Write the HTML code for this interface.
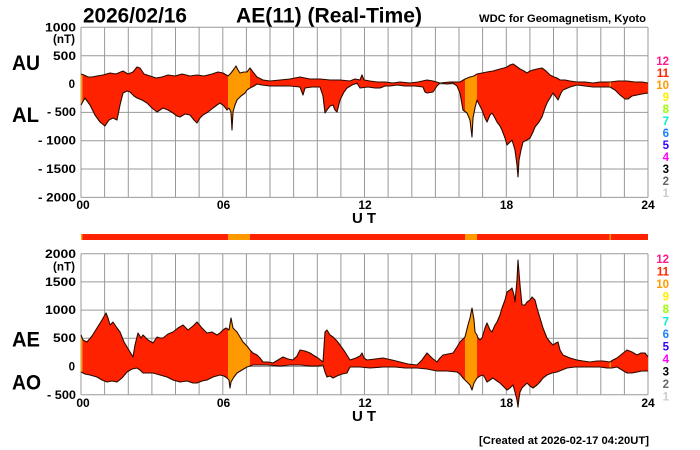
<!DOCTYPE html>
<html><head><meta charset="utf-8"><style>
html,body{margin:0;padding:0;background:#fff;}
svg{display:block;}
text{font-family:"Liberation Sans",Arial,sans-serif;font-weight:bold;}
.tk{font-size:11.5px;}
.lg{font-size:11.5px;}
</style></head><body>
<svg width="700" height="450" viewBox="0 0 700 450" xmlns="http://www.w3.org/2000/svg">
<defs>
<mask id="m1" maskUnits="userSpaceOnUse" x="0" y="0" width="700" height="450">
<polygon fill="#fff" points="81,74 84,75 88,77 92,77 97,76 103,75 110,73 116,74 123,71 128,74 133,72 137,67 140,68 144,74 150,76 156,78 162,77 168,75 175,76 182,74 190,76 197,75 204,76 212,74 218,72 223,73 228,76 231,73 234,69 236,66 238,70 240,73 244,72 247,72 250,68 253,72 257,77 263,80 270,81 280,80 290,79 300,77 310,79 320,79 330,80 340,80 350,81 355,79 360,80 362,75 364,80 370,81 377,82 385,82 393,83 400,82 410,83 418,82 427,80 433,81 440,83 450,82 460,82 465,79 470,77 474,76 477,74 482,73 487,72 493,71 500,69 504,68 507,67 510,65 513,64 516,66 520,69 524,71 527,73 530,71 533,70 537,69 542,68 546,71 550,75 554,77 557,78 560,80 565,80 570,81 577,82 585,82 593,83 600,82 610,82 618,81 627,81 635,82 642,82 648,83 648,200 81,200"/>
<polygon fill="#000" points="81,105 85,98 90,105 95,115 100,122 105,126 109,120 113,118 117,120 120,105 123,93 127,91 130,92 134,96 137,98 142,100 147,103 152,108 157,112 163,108 168,110 173,113 177,116 180,117 185,114 190,115 194,120 197,123 200,118 203,115 208,112 213,108 217,105 220,103 224,106 227,110 229,108 231,112 232,130 233,112 235,105 237,100 241,96 245,93 247,90 250,88 254,86 257,84 262,85 270,86 280,86 290,86 300,87 303,95 305,88 312,87 320,87 323,96 325,113 327,110 330,106 333,105 335,110 337,112 340,100 344,92 347,88 352,85 357,83 360,88 368,87 375,88 380,88 385,86 390,86 397,85 405,86 415,86 423,87 425,92 427,93 433,92 437,86 440,83 447,84 453,83 457,86 460,93 463,110 467,113 470,120 472,137 473,118 475,108 477,100 480,106 482,110 485,118 487,122 490,115 492,113 495,118 497,122 500,126 502,130 505,138 507,145 510,142 512,140 515,150 517,165 518,177 519,160 521,150 523,142 527,140 530,138 533,132 535,127 539,122 542,117 545,108 547,103 550,98 553,93 556,97 558,100 561,93 563,90 570,87 577,85 585,86 593,87 600,87 605,87 610,87 615,90 620,95 625,99 628,99 632,96 637,95 642,94 648,93 648,200 81,200"/>
</mask>
<mask id="m2" maskUnits="userSpaceOnUse" x="0" y="0" width="700" height="450">
<polygon fill="#fff" points="81,335 83,340 87,342 92,336 97,328 102,320 106,313 108,318 110,325 113,322 117,328 120,332 124,342 127,347 130,352 133,357 135,345 138,333 141,338 143,335 148,340 153,343 157,337 160,338 163,338 168,334 173,332 178,328 183,325 188,330 193,326 197,322 202,328 207,333 212,332 217,335 220,333 223,330 226,328 229,330 231,318 233,328 237,332 240,337 243,342 247,346 250,350 253,353 257,355 260,358 263,362 268,362 273,363 278,360 283,357 288,359 293,360 297,356 300,350 305,351 310,353 313,355 318,358 323,362 325,332 327,330 330,335 333,337 337,341 340,345 345,352 350,360 356,358 360,356 362,353 364,358 367,360 375,359 383,358 392,360 400,362 408,364 417,365 422,360 427,353 432,358 437,362 440,358 443,355 448,354 453,353 457,347 460,342 463,339 465,337 468,325 470,318 472,308 474,320 475,332 477,335 478,338 480,340 482,338 485,328 487,323 490,330 492,332 495,325 497,322 500,315 502,308 505,300 507,292 510,290 512,288 514,295 515,302 517,280 518,260 520,285 522,305 525,305 527,302 530,300 532,297 535,300 537,308 540,318 543,328 547,338 550,342 553,345 556,343 558,342 560,350 563,355 570,358 577,360 583,361 590,362 597,361 603,361 610,362 613,360 617,358 622,354 627,350 632,352 637,355 641,353 645,353 648,357 648,420 81,420"/>
<polygon fill="#000" points="81,372 85,374 90,375 97,377 102,380 107,382 112,381 117,382 122,378 127,372 132,369 137,368 140,370 143,373 148,373 153,373 160,375 167,377 173,380 180,382 187,381 193,383 197,383 202,381 207,380 213,377 220,375 224,376 227,378 229,380 230,388 231,382 234,377 237,373 242,370 247,367 250,366 253,365 260,365 267,365 280,366 290,365 300,365 310,366 318,366 323,365 325,372 327,377 330,376 333,378 337,376 342,374 347,373 350,367 360,367 370,368 383,367 395,367 405,368 417,368 427,369 437,371 447,371 457,372 460,374 463,378 467,382 470,385 472,390 474,383 477,378 480,376 483,375 485,378 487,382 490,380 493,378 497,381 500,383 503,386 507,390 510,388 513,385 515,392 517,400 518,407 519,398 520,392 522,388 525,385 527,383 530,386 533,388 537,385 540,382 543,378 547,375 552,373 557,372 562,370 567,368 575,367 583,367 593,367 600,367 607,368 612,368 617,367 622,370 627,373 632,373 637,372 642,371 648,371 648,420 81,420"/>
</mask>
</defs>

<!-- Titles -->
<text x="83" y="22.5" font-size="21" textLength="104" lengthAdjust="spacingAndGlyphs">2026/02/16</text>
<text x="236" y="22.5" font-size="21" textLength="186" lengthAdjust="spacingAndGlyphs">AE(11) (Real-Time)</text>
<text x="479" y="22" font-size="11.2" textLength="167" lengthAdjust="spacingAndGlyphs">WDC for Geomagnetism, Kyoto</text>

<!-- Top grid -->
<g stroke="#999" stroke-width="1" fill="none">
<path d="M81,27.3V197.4M104.6,27.3V197.4M128.3,27.3V197.4M151.9,27.3V197.4M175.5,27.3V197.4M199.1,27.3V197.4M222.8,27.3V197.4M246.4,27.3V197.4M270,27.3V197.4M293.6,27.3V197.4M317.3,27.3V197.4M340.9,27.3V197.4M364.5,27.3V197.4M388.1,27.3V197.4M411.8,27.3V197.4M435.4,27.3V197.4M459,27.3V197.4M482.6,27.3V197.4M506.3,27.3V197.4M529.9,27.3V197.4M553.5,27.3V197.4M577.1,27.3V197.4M600.8,27.3V197.4M624.4,27.3V197.4M648,27.3V197.4"/>
<path d="M81,27.3H648M81,55.7H648M81,84H648M81,112.4H648M81,140.7H648M81,169H648M81,197.4H648"/>
</g>
<!-- Top data -->
<g mask="url(#m1)">
<rect x="81" y="20" width="567" height="180" fill="#ff2200"/>
<rect x="81" y="20" width="1.5" height="180" fill="#ff9900"/>
<rect x="228" y="20" width="22" height="180" fill="#ff9900"/>
<rect x="465" y="20" width="12" height="180" fill="#ff9900"/>
<rect x="609.5" y="20" width="1.5" height="180" fill="#ff9900"/>
</g>
<g fill="none" stroke="#2a0a00" stroke-width="1.1" stroke-linejoin="round">
<polyline points="81,74 84,75 88,77 92,77 97,76 103,75 110,73 116,74 123,71 128,74 133,72 137,67 140,68 144,74 150,76 156,78 162,77 168,75 175,76 182,74 190,76 197,75 204,76 212,74 218,72 223,73 228,76 231,73 234,69 236,66 238,70 240,73 244,72 247,72 250,68 253,72 257,77 263,80 270,81 280,80 290,79 300,77 310,79 320,79 330,80 340,80 350,81 355,79 360,80 362,75 364,80 370,81 377,82 385,82 393,83 400,82 410,83 418,82 427,80 433,81 440,83 450,82 460,82 465,79 470,77 474,76 477,74 482,73 487,72 493,71 500,69 504,68 507,67 510,65 513,64 516,66 520,69 524,71 527,73 530,71 533,70 537,69 542,68 546,71 550,75 554,77 557,78 560,80 565,80 570,81 577,82 585,82 593,83 600,82 610,82 618,81 627,81 635,82 642,82 648,83"/>
<polyline points="81,105 85,98 90,105 95,115 100,122 105,126 109,120 113,118 117,120 120,105 123,93 127,91 130,92 134,96 137,98 142,100 147,103 152,108 157,112 163,108 168,110 173,113 177,116 180,117 185,114 190,115 194,120 197,123 200,118 203,115 208,112 213,108 217,105 220,103 224,106 227,110 229,108 231,112 232,130 233,112 235,105 237,100 241,96 245,93 247,90 250,88 254,86 257,84 262,85 270,86 280,86 290,86 300,87 303,95 305,88 312,87 320,87 323,96 325,113 327,110 330,106 333,105 335,110 337,112 340,100 344,92 347,88 352,85 357,83 360,88 368,87 375,88 380,88 385,86 390,86 397,85 405,86 415,86 423,87 425,92 427,93 433,92 437,86 440,83 447,84 453,83 457,86 460,93 463,110 467,113 470,120 472,137 473,118 475,108 477,100 480,106 482,110 485,118 487,122 490,115 492,113 495,118 497,122 500,126 502,130 505,138 507,145 510,142 512,140 515,150 517,165 518,177 519,160 521,150 523,142 527,140 530,138 533,132 535,127 539,122 542,117 545,108 547,103 550,98 553,93 556,97 558,100 561,93 563,90 570,87 577,85 585,86 593,87 600,87 605,87 610,87 615,90 620,95 625,99 628,99 632,96 637,95 642,94 648,93"/>
</g>

<!-- Top labels -->
<text x="12" y="70" font-size="21" textLength="28" lengthAdjust="spacingAndGlyphs">AU</text>
<text x="12" y="122" font-size="21" textLength="27" lengthAdjust="spacingAndGlyphs">AL</text>
<g class="tk" text-anchor="end">
<text x="76" y="31.5" textLength="31" lengthAdjust="spacingAndGlyphs">1000</text>
<text x="75" y="43" textLength="22" lengthAdjust="spacingAndGlyphs">(nT)</text>
<text x="76" y="60" textLength="23" lengthAdjust="spacingAndGlyphs">500</text>
<text x="75" y="88">0</text>
<text x="76" y="116" textLength="29" lengthAdjust="spacingAndGlyphs">- 500</text>
<text x="76" y="144.5" textLength="38" lengthAdjust="spacingAndGlyphs">- 1000</text>
<text x="76" y="173" textLength="38" lengthAdjust="spacingAndGlyphs">- 1500</text>
<text x="76" y="201.5" textLength="38" lengthAdjust="spacingAndGlyphs">- 2000</text>
</g>
<g font-size="12" text-anchor="middle">
<text x="83" y="209">00</text>
<text x="223.5" y="209">06</text>
<text x="365" y="209">12</text>
<text x="506.5" y="209">18</text>
<text x="648" y="209">24</text>
</g>
<text x="352" y="223" font-size="15" textLength="24" lengthAdjust="spacing">U T</text>

<!-- Top legend -->
<g class="lg" text-anchor="end">
<text x="669" y="65" style="fill:#ff1a8c">12</text>
<text x="669" y="77" style="fill:#ff2200">11</text>
<text x="669" y="89" style="fill:#ff9900">10</text>
<text x="669" y="101" style="fill:#ffee00">9</text>
<text x="669" y="113" style="fill:#99ff00">8</text>
<text x="669" y="125" style="fill:#00eecc">7</text>
<text x="669" y="137" style="fill:#1a80ff">6</text>
<text x="669" y="149" style="fill:#3300ff">5</text>
<text x="669" y="161" style="fill:#ff00ff">4</text>
<text x="669" y="173" style="fill:#000">3</text>
<text x="669" y="185" style="fill:#666">2</text>
<text x="669" y="197" style="fill:#ccc">1</text>
</g>

<!-- Color bar -->
<rect x="81" y="234" width="567" height="6" fill="#ff2200"/>
<rect x="81" y="234" width="1.5" height="6" fill="#ff9900"/>
<rect x="228" y="234" width="22" height="6" fill="#ff9900"/>
<rect x="465" y="234" width="12" height="6" fill="#ff9900"/>
<rect x="609.5" y="234" width="1.5" height="6" fill="#ff9900"/>

<!-- Bottom grid -->
<g stroke="#999" stroke-width="1" fill="none">
<path d="M81,253.7V394.7M104.6,253.7V394.7M128.3,253.7V394.7M151.9,253.7V394.7M175.5,253.7V394.7M199.1,253.7V394.7M222.8,253.7V394.7M246.4,253.7V394.7M270,253.7V394.7M293.6,253.7V394.7M317.3,253.7V394.7M340.9,253.7V394.7M364.5,253.7V394.7M388.1,253.7V394.7M411.8,253.7V394.7M435.4,253.7V394.7M459,253.7V394.7M482.6,253.7V394.7M506.3,253.7V394.7M529.9,253.7V394.7M553.5,253.7V394.7M577.1,253.7V394.7M600.8,253.7V394.7M624.4,253.7V394.7M648,253.7V394.7"/>
<path d="M81,253.7H648M81,281.9H648M81,310.1H648M81,338.3H648M81,366.5H648M81,394.7H648"/>
</g>
<!-- Bottom data -->
<g mask="url(#m2)">
<rect x="81" y="250" width="567" height="170" fill="#ff2200"/>
<rect x="81" y="250" width="1.5" height="170" fill="#ff9900"/>
<rect x="228" y="250" width="22" height="170" fill="#ff9900"/>
<rect x="465" y="250" width="12" height="170" fill="#ff9900"/>
<rect x="609.5" y="250" width="1.5" height="170" fill="#ff9900"/>
</g>
<g fill="none" stroke="#2a0a00" stroke-width="1.1" stroke-linejoin="round">
<polyline points="81,335 83,340 87,342 92,336 97,328 102,320 106,313 108,318 110,325 113,322 117,328 120,332 124,342 127,347 130,352 133,357 135,345 138,333 141,338 143,335 148,340 153,343 157,337 160,338 163,338 168,334 173,332 178,328 183,325 188,330 193,326 197,322 202,328 207,333 212,332 217,335 220,333 223,330 226,328 229,330 231,318 233,328 237,332 240,337 243,342 247,346 250,350 253,353 257,355 260,358 263,362 268,362 273,363 278,360 283,357 288,359 293,360 297,356 300,350 305,351 310,353 313,355 318,358 323,362 325,332 327,330 330,335 333,337 337,341 340,345 345,352 350,360 356,358 360,356 362,353 364,358 367,360 375,359 383,358 392,360 400,362 408,364 417,365 422,360 427,353 432,358 437,362 440,358 443,355 448,354 453,353 457,347 460,342 463,339 465,337 468,325 470,318 472,308 474,320 475,332 477,335 478,338 480,340 482,338 485,328 487,323 490,330 492,332 495,325 497,322 500,315 502,308 505,300 507,292 510,290 512,288 514,295 515,302 517,280 518,260 520,285 522,305 525,305 527,302 530,300 532,297 535,300 537,308 540,318 543,328 547,338 550,342 553,345 556,343 558,342 560,350 563,355 570,358 577,360 583,361 590,362 597,361 603,361 610,362 613,360 617,358 622,354 627,350 632,352 637,355 641,353 645,353 648,357"/>
<polyline points="81,372 85,374 90,375 97,377 102,380 107,382 112,381 117,382 122,378 127,372 132,369 137,368 140,370 143,373 148,373 153,373 160,375 167,377 173,380 180,382 187,381 193,383 197,383 202,381 207,380 213,377 220,375 224,376 227,378 229,380 230,388 231,382 234,377 237,373 242,370 247,367 250,366 253,365 260,365 267,365 280,366 290,365 300,365 310,366 318,366 323,365 325,372 327,377 330,376 333,378 337,376 342,374 347,373 350,367 360,367 370,368 383,367 395,367 405,368 417,368 427,369 437,371 447,371 457,372 460,374 463,378 467,382 470,385 472,390 474,383 477,378 480,376 483,375 485,378 487,382 490,380 493,378 497,381 500,383 503,386 507,390 510,388 513,385 515,392 517,400 518,407 519,398 520,392 522,388 525,385 527,383 530,386 533,388 537,385 540,382 543,378 547,375 552,373 557,372 562,370 567,368 575,367 583,367 593,367 600,367 607,368 612,368 617,367 622,370 627,373 632,373 637,372 642,371 648,371"/>
</g>

<!-- Bottom labels -->
<text x="12" y="346.5" font-size="21" textLength="28" lengthAdjust="spacingAndGlyphs">AE</text>
<text x="12" y="389.5" font-size="21" textLength="29" lengthAdjust="spacingAndGlyphs">AO</text>
<g class="tk" text-anchor="end">
<text x="76" y="258" textLength="31" lengthAdjust="spacingAndGlyphs">2000</text>
<text x="75" y="270.5" textLength="22" lengthAdjust="spacingAndGlyphs">(nT)</text>
<text x="76" y="286" textLength="31" lengthAdjust="spacingAndGlyphs">1500</text>
<text x="76" y="314" textLength="31" lengthAdjust="spacingAndGlyphs">1000</text>
<text x="76" y="342" textLength="23" lengthAdjust="spacingAndGlyphs">500</text>
<text x="75" y="370.5">0</text>
<text x="76" y="399" textLength="29" lengthAdjust="spacingAndGlyphs">- 500</text>
</g>
<g font-size="12" text-anchor="middle">
<text x="83" y="407">00</text>
<text x="223.5" y="407">06</text>
<text x="365" y="407">12</text>
<text x="506.5" y="407">18</text>
<text x="648" y="407">24</text>
</g>
<text x="352" y="421" font-size="15" textLength="24" lengthAdjust="spacing">U T</text>

<!-- Bottom legend -->
<g class="lg" text-anchor="end">
<text x="669" y="263" style="fill:#ff1a8c">12</text>
<text x="669" y="275.5" style="fill:#ff2200">11</text>
<text x="669" y="288" style="fill:#ff9900">10</text>
<text x="669" y="300.5" style="fill:#ffee00">9</text>
<text x="669" y="313" style="fill:#99ff00">8</text>
<text x="669" y="325.5" style="fill:#00eecc">7</text>
<text x="669" y="338" style="fill:#1a80ff">6</text>
<text x="669" y="350.5" style="fill:#3300ff">5</text>
<text x="669" y="363" style="fill:#ff00ff">4</text>
<text x="669" y="375.5" style="fill:#000">3</text>
<text x="669" y="388" style="fill:#666">2</text>
<text x="669" y="400.5" style="fill:#ccc">1</text>
</g>

<text x="479" y="444" font-size="11" textLength="170" lengthAdjust="spacingAndGlyphs">[Created at 2026-02-17 04:20UT]</text>
</svg>
</body></html>
